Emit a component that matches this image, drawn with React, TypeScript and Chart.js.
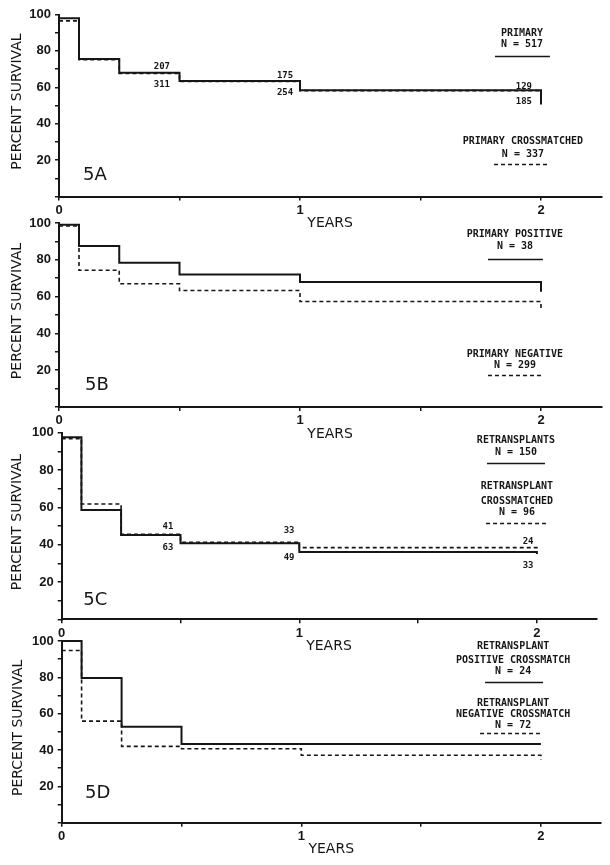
import React, { useEffect, useRef } from 'react';
import { Chart, registerables } from 'chart.js';

Chart.register(...registerables);

// ---------- DATA ----------
const STEP_TIMES = [0, 0.083, 0.25, 0.5, 1, 2, 2];
const STEP_TIMES_SHORT = [0, 0.083, 0.25, 0.5, 1, 2];

const A_SOLID = [98, 75.6, 68, 63.4, 58.4, 58.4, 50.5];
const A_DASHED = [96.5, 75.2, 67.6, 63.2, 58.2, 58.2];
const B_SOLID = [99, 87.5, 78.4, 72, 68, 68, 62.6];
const B_DASHED = [98.4, 74.3, 67, 63.3, 57.3, 57.3, 53];
const C_SOLID = [97.5, 58.6, 45.2, 40.7, 36, 36, 35];
const C_DASHED = [96.8, 61.8, 45.5, 41.3, 38.4, 38.4, 37];
const D_SOLID = [100, 79.6, 52.8, 43.3, 43.3, 43.3];
const D_DASHED = [94.8, 55.9, 42, 40.7, 37.1, 37.1, 34.7];

const Y_TICK_LABELS = [20, 40, 60, 80, 100];
const X_TICK_LABELS = [0, 1, 2];

const PANEL_TAGS = ['5A', '5B', '5C', '5D'];

// numbers at risk: [text, years, percent]
const RISK_A: [string, number, number][] = [
  ['207', 0.427, 71.3], ['311', 0.427, 61.3],
  ['175', 0.938, 66.2], ['254', 0.938, 56.9],
  ['129', 1.929, 60.2], ['185', 1.929, 52.1],
];
const RISK_C: [string, number, number][] = [
  ['41', 0.447, 49.5], ['63', 0.447, 38.4],
  ['33', 0.957, 47.3], ['49', 0.957, 32.9],
  ['24', 1.963, 41.6], ['33', 1.963, 28.6],
];

// legend text: [text, years, percent]
const LEGEND_TEXT_A: [string, number, number][] = [
  ['PRIMARY', 1.921, 89.8], ['N = 517', 1.921, 83.8],
  ['PRIMARY CROSSMATCHED', 1.925, 30.5], ['N = 337', 1.925, 23.4],
];
const LEGEND_TEXT_B: [string, number, number][] = [
  ['PRIMARY POSITIVE', 1.892, 93.8], ['N = 38', 1.892, 87.4],
  ['PRIMARY NEGATIVE', 1.892, 28.8], ['N = 299', 1.892, 22.4],
];
const LEGEND_TEXT_C: [string, number, number][] = [
  ['RETRANSPLANTS', 1.912, 96.1], ['N = 150', 1.912, 89.7],
  ['RETRANSPLANT', 1.916, 71.0], ['CROSSMATCHED', 1.916, 63.0], ['N = 96', 1.916, 57.1],
];
const LEGEND_TEXT_D: [string, number, number][] = [
  ['RETRANSPLANT', 1.884, 96.9], ['POSITIVE CROSSMATCH', 1.884, 89.5], ['N = 24', 1.884, 83.1],
  ['RETRANSPLANT', 1.884, 65.7], ['NEGATIVE CROSSMATCH', 1.884, 59.8], ['N = 72', 1.884, 53.8],
];
// legend line samples: [t0, t1, percent, dashed]
const LEGEND_LINES_A: [number, number, number, boolean][] = [[1.809, 2.037, 77.2, false], [1.805, 2.029, 17.9, true]];
const LEGEND_LINES_B: [number, number, number, boolean][] = [[1.78, 2.008, 80.4, false], [1.78, 2.008, 17.4, true]];
const LEGEND_LINES_C: [number, number, number, boolean][] = [[1.79, 2.034, 83.9, false], [1.786, 2.038, 51.8, true]];
const LEGEND_LINES_D: [number, number, number, boolean][] = [[1.767, 2.009, 77.6, false], [1.746, 1.996, 49.4, true]];

// ---------- LAYOUT ----------
const W = 610;
const H = 865;
const X_MAX = 2.25;
const LAYOUT = [
  { top: 14.5, bottom: 196.5, left: 59, ppy: 241, titleX: 17 },
  { top: 223, bottom: 407, left: 59, ppy: 241, titleX: 17 },
  { top: 432.7, bottom: 619.3, left: 61.7, ppy: 237.6, titleX: 17.5 },
  { top: 641, bottom: 822.7, left: 61.7, ppy: 239.6, titleX: 18 },
];
const TAG_POS: [number, number][] = [[0.1, 11.8], [0.108, 12], [0.091, 10.3], [0.097, 16.3]];

const INK = '#161616';

function pts(times: number[], vals: number[]) {
  return vals.map((v, i) => ({ x: times[i], y: v }));
}

const PANELS = [
  { solid: pts(STEP_TIMES, A_SOLID), dashed: pts(STEP_TIMES_SHORT, A_DASHED), risk: RISK_A, legText: LEGEND_TEXT_A, legLines: LEGEND_LINES_A },
  { solid: pts(STEP_TIMES, B_SOLID), dashed: pts(STEP_TIMES, B_DASHED), risk: [], legText: LEGEND_TEXT_B, legLines: LEGEND_LINES_B },
  { solid: pts(STEP_TIMES, C_SOLID), dashed: pts(STEP_TIMES, C_DASHED), risk: RISK_C, legText: LEGEND_TEXT_C, legLines: LEGEND_LINES_C },
  { solid: pts(STEP_TIMES_SHORT, D_SOLID), dashed: pts(STEP_TIMES, D_DASHED), risk: [], legText: LEGEND_TEXT_D, legLines: LEGEND_LINES_D },
];

function makeAnnotPlugin(i: number) {
  const p = PANELS[i];
  const L = LAYOUT[i];
  return {
    id: 'annot' + i,
    afterDraw(chart: any) {
      const { ctx, chartArea } = chart;
      const x = chart.scales.x;
      const y = chart.scales.y;
      ctx.save();
      ctx.fillStyle = INK;
      ctx.strokeStyle = INK;
      ctx.textBaseline = 'middle';

      // y title
      ctx.save();
      ctx.translate(L.titleX, (chartArea.top + chartArea.bottom) / 2 - 4);
      ctx.rotate(-Math.PI / 2);
      ctx.textAlign = 'center';
      ctx.font = '14px "DejaVu Sans"';
      ctx.fillText('PERCENT SURVIVAL', 0, 0);
      ctx.restore();

      // x title
      ctx.textAlign = 'center';
      ctx.font = '14px "DejaVu Sans"';
      ctx.fillText('YEARS', x.getPixelForValue(1.125), chartArea.bottom + 27);

      // panel tag
      ctx.textAlign = 'left';
      ctx.font = '18px "DejaVu Sans"';
      ctx.fillText(PANEL_TAGS[i], x.getPixelForValue(TAG_POS[i][0]), y.getPixelForValue(TAG_POS[i][1]));

      // numbers at risk
      ctx.textAlign = 'center';
      ctx.font = 'bold 9px "DejaVu Sans Mono"';
      for (const [t, tx, v] of p.risk) {
        ctx.fillText(t, x.getPixelForValue(tx), y.getPixelForValue(v));
      }

      // legend text
      ctx.font = 'bold 10px "DejaVu Sans Mono"';
      for (const [t, tx, v] of p.legText) {
        ctx.fillText(t, x.getPixelForValue(tx), y.getPixelForValue(v));
      }
      // legend lines
      for (const [t0, t1, v, dashed] of p.legLines) {
        ctx.beginPath();
        ctx.lineWidth = dashed ? 1.4 : 1.6;
        ctx.setLineDash(dashed ? [4, 3] : []);
        const py = Math.round(y.getPixelForValue(v)) + 0.5;
        ctx.moveTo(x.getPixelForValue(t0), py);
        ctx.lineTo(x.getPixelForValue(t1), py);
        ctx.stroke();
      }
      ctx.restore();
    },
  };
}

function makeConfig(i: number): any {
  const p = PANELS[i];
  const L = LAYOUT[i];
  const right = L.left + X_MAX * L.ppy;
  const tickFont = { family: '"Liberation Sans"', size: 13, weight: 'bold' as const };
  const grid = { display: true, drawOnChartArea: false, drawTicks: true, tickLength: 4, color: INK, lineWidth: 1.5 };
  const border = { display: true, color: INK, width: 2 };
  return {
    type: 'line',
    data: {
      datasets: [
        {
          data: p.dashed, borderColor: INK, borderWidth: 1.6, borderDash: [4, 3],
          stepped: 'before', pointRadius: 0, fill: false, clip: false, tension: 0,
        },
        {
          data: p.solid, borderColor: INK, borderWidth: 2, stepped: 'before',
          pointRadius: 0, fill: false, clip: false, tension: 0,
        },
      ],
    },
    options: {
      animation: false,
      responsive: false,
      events: [],
      layout: { padding: { left: 0, top: L.top, right: W - right, bottom: H - L.bottom - 20 } },
      plugins: { legend: { display: false }, tooltip: { enabled: false }, title: { display: false } },
      scales: {
        x: {
          type: 'linear', min: 0, max: X_MAX,
          afterFit: (s: any) => { s.height = 20; },
          ticks: {
            stepSize: 0.5, autoSkip: false, maxRotation: 0, includeBounds: false, color: INK, font: tickFont, padding: 2,
            callback: (v: number) => (X_TICK_LABELS.includes(v) ? String(v) : ''),
          },
          grid, border,
        },
        y: {
          type: 'linear', min: 0, max: 100,
          afterFit: (s: any) => { s.width = L.left; },
          ticks: {
            stepSize: 10, autoSkip: false, color: INK, font: tickFont, padding: 4,
            callback: (v: number) => (Y_TICK_LABELS.includes(v) ? String(v) : ''),
          },
          grid, border,
        },
      },
    },
    plugins: [makeAnnotPlugin(i)],
  };
}

function Panel({ index }: { index: number }) {
  const ref = useRef<HTMLCanvasElement | null>(null);
  useEffect(() => {
    if (!ref.current) return;
    const chart = new Chart(ref.current, makeConfig(index));
    return () => chart.destroy();
  }, [index]);
  return (
    <canvas
      ref={ref}
      width={W}
      height={H}
      style={{ position: 'absolute', left: 0, top: 0, width: W, height: H, pointerEvents: 'none' }}
    />
  );
}

export default function App() {
  return (
    <div style={{ position: 'absolute', left: 0, top: 0, width: W, height: H, background: '#fff', overflow: 'hidden' }}>
      {[0, 1, 2, 3].map((i) => (
        <Panel key={i} index={i} />
      ))}
    </div>
  );
}
